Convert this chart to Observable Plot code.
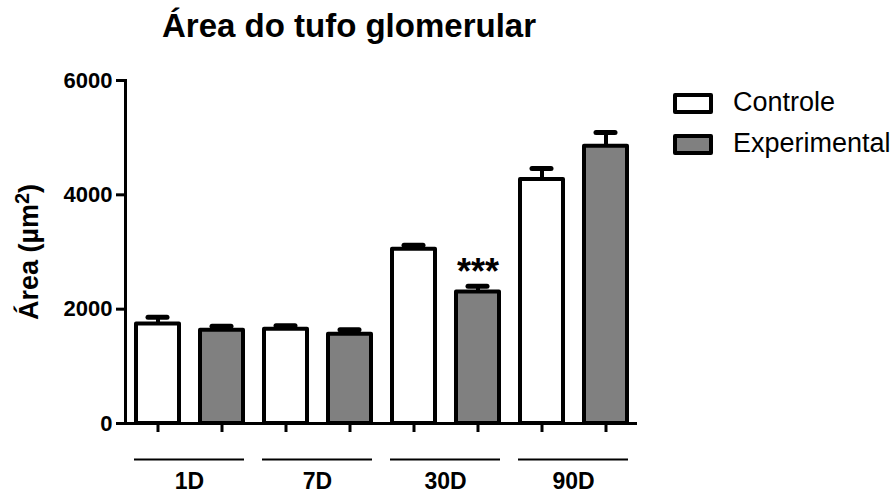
<!DOCTYPE html>
<html>
<head>
<meta charset="utf-8">
<script src="https://cdn.jsdelivr.net/npm/d3@7"></script>
<script src="https://cdn.jsdelivr.net/npm/@observablehq/plot@0.6"></script>
<style>
  body { margin: 0; background: #fff; }
  #wrap { position: relative; width: 894px; height: 496px; overflow: hidden; background: #fff;
          font-family: Arial, "Liberation Sans", Helvetica, sans-serif; color: #000; }
  #chart { position: absolute; left: 0; top: 0; }
  #title { position: absolute; left: 0; width: 698px; top: 9px; text-align: center;
           font-weight: bold; font-size: 33px; line-height: 1; white-space: nowrap; }
  #ylabel { position: absolute; left: 29px; top: 252px; font-weight: bold; font-size: 27px;
            line-height: 1; white-space: nowrap; transform: translate(-50%, -50%) rotate(-90deg); }
  #ylabel sup { font-size: 20px; vertical-align: 0.45em; line-height: 0; }
  .key { position: absolute; left: 673px; width: 40px; height: 21px; box-sizing: border-box;
         border: 4px solid #000; border-radius: 2px; }
  .keylabel { position: absolute; left: 733px; font-size: 27px; line-height: 1; white-space: nowrap; }
</style>
</head>
<body>
<div id="wrap">
  <div id="chart"></div>
  <div id="title">Área do tufo glomerular</div>
  <div id="ylabel">Área (µm<sup>2</sup>)</div>
  <div id="legend"></div>
</div>
<script>
// Glomerular tuft area by time point (mean ± SEM)
const groups = ["1D", "7D", "30D", "90D"];
const series = ["Controle", "Experimental"];
const controleMean = [1740, 1650, 3050, 4270];
const controleSem = [120, 60, 70, 190];
const experimentalMean = [1630, 1560, 2300, 4850];
const experimentalSem = [70, 80, 100, 240];
const seriesFill = ["#ffffff", "#808080"];
const yTicks = [0, 2000, 4000, 6000];
const significance = [{group: "30D", series: "Experimental", label: "***"}];

const rows = [];
groups.forEach((g, i) => {
  rows.push({group: g, series: series[0], value: controleMean[i], sem: controleSem[i]});
  rows.push({group: g, series: series[1], value: experimentalMean[i], sem: experimentalSem[i]});
});
const sigRows = significance.map(s => {
  const r = rows.find(d => d.group === s.group && d.series === s.series);
  return {...s, top: r.value + r.sem};
});

const font = 'Arial, "Liberation Sans", Helvetica, sans-serif';

const chart = Plot.plot({
  width: 894,
  height: 496,
  marginTop: 80,
  marginBottom: 73,
  marginLeft: 123,
  marginRight: 256,
  style: {fontFamily: font, color: "#000", background: "#fff", overflow: "visible"},
  fx: {domain: groups, padding: 0},
  x: {domain: series, paddingInner: 0.33, paddingOuter: 0.165},
  y: {domain: [0, 6000]},
  color: {domain: series, range: seriesFill},
  marks: [
    Plot.barY(rows, {fx: "group", x: "series", y: "value", fill: "series",
                     stroke: "#000", strokeWidth: 4, strokeLinejoin: "round"}),
    Plot.ruleX(rows, {fx: "group", x: "series", y1: "value", y2: d => d.value + d.sem,
                      stroke: "#000", strokeWidth: 4}),
    Plot.tickY(rows, {fx: "group", x: "series", y: d => d.value + d.sem,
                      stroke: "#000", strokeWidth: 5, strokeLinecap: "round",
                      insetLeft: 12, insetRight: 12}),
    Plot.text(sigRows, {fx: "group", x: "series", y: "top", text: "label",
                        fontSize: 36, fontWeight: "bold", lineAnchor: "middle", dy: -14}),
    // axis lines
    Plot.ruleY([0], {stroke: "#000", strokeWidth: 3}),
    Plot.frame({anchor: "left", facetAnchor: "left", stroke: "#000", strokeWidth: 3}),
    // y axis
    Plot.axisY({ticks: yTicks, tickSize: 9, tickPadding: 4, strokeWidth: 3,
                fontSize: 22, fontWeight: "bold", label: null, tickFormat: d => String(d)}),
    // bar ticks under the x axis
    Plot.axisX({tickSize: 9, strokeWidth: 3, tickFormat: () => "", label: null}),
    // group brackets and labels
    Plot.ruleY([0], {dy: 36, insetLeft: 9, insetRight: 9, stroke: "#000", strokeWidth: 2}),
    Plot.axisFx({anchor: "bottom", tickSize: 0, tickPadding: 49, fontSize: 23,
                 fontWeight: "bold", label: null})
  ]
});
document.getElementById("chart").appendChild(chart);

// legend
const legend = document.getElementById("legend");
const keyTops = [93, 134];
series.forEach((s, i) => {
  const box = document.createElement("div");
  box.className = "key";
  box.style.top = keyTops[i] + "px";
  box.style.background = seriesFill[i];
  legend.appendChild(box);
  const lab = document.createElement("div");
  lab.className = "keylabel";
  lab.style.top = (keyTops[i] - 4) + "px";
  lab.textContent = s;
  legend.appendChild(lab);
});
</script>
</body>
</html>
